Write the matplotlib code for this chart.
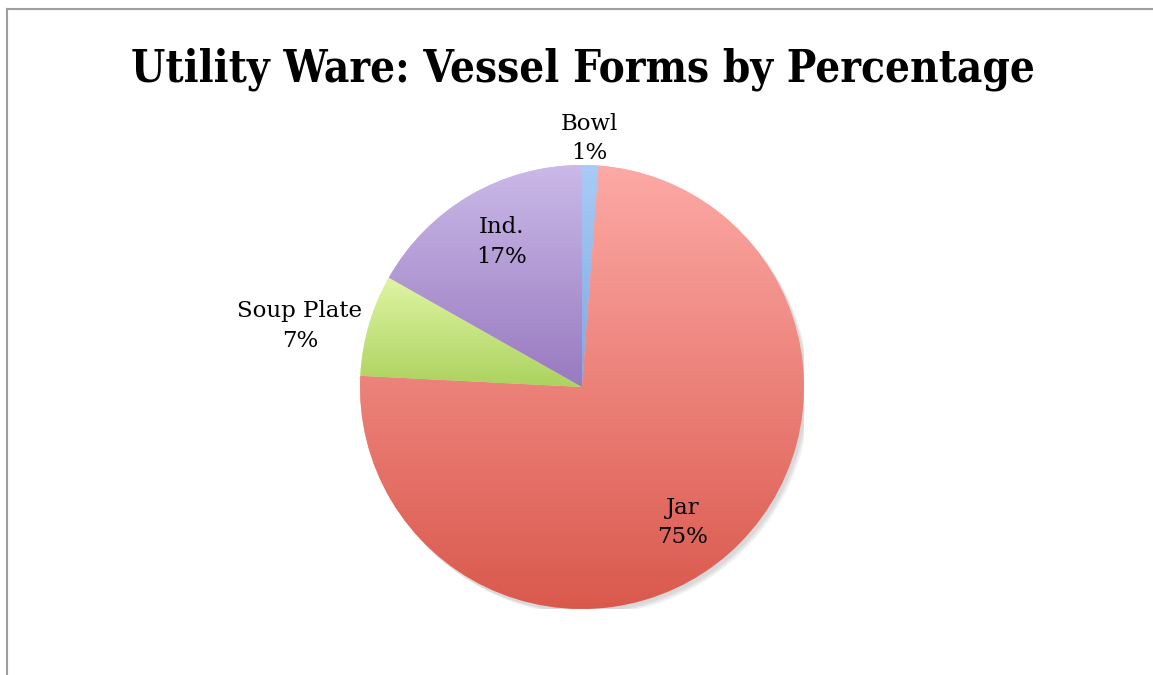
import matplotlib
matplotlib.use("Agg")
import matplotlib.pyplot as plt
import numpy as np
from matplotlib.colors import LinearSegmentedColormap
from matplotlib.patches import Circle

categories = ["Bowl", "Jar", "Soup Plate", "Ind."]
values = [1.2, 74.6, 7.4, 16.8]
pct_labels = ["1%", "75%", "7%", "17%"]
label_dist = [1.12, 0.76, 1.30, 0.746]
label_angle = [88.2, -53.4, 167.8, 118.9]
top_colors = ["#A9CBF5", "#FDA9A5", "#DFF5A4", "#CBB9E8"]
bottom_colors = ["#7EA8E4", "#DA594D", "#ACD25E", "#987AC0"]

W, H = 1153, 675
fig = plt.figure(figsize=(W / 100, H / 100), dpi=100)
fig.patch.set_facecolor("white")

# frame lines (top and left)
fig.add_artist(plt.Line2D([7 / W, 1], [1 - 8.5 / H, 1 - 8.5 / H], color="#9E9E9E", lw=1.5))
fig.add_artist(plt.Line2D([7 / W, 7 / W], [0, 1 - 8.5 / H], color="#9E9E9E", lw=1.5))

fig.text(583 / W, 1 - 69 / H, "Utility Ware: Vessel Forms by Percentage",
         ha="center", va="center", fontsize=31.5, fontweight="bold",
         family="DejaVu Serif", fontstretch="condensed")

cx, cy, r = 582, 387, 222
ax = fig.add_axes([(cx - r) / W, (H - cy - r) / H, 2 * r / W, 2 * r / H])
ax.set_xlim(-1, 1)
ax.set_ylim(-1, 1)
ax.set_aspect("equal")
ax.axis("off")

# soft shadow
for i, a in enumerate([0.05, 0.05, 0.05]):
    ax.add_patch(Circle((0.012 + i * 0.006, -0.015 - i * 0.006), 1.0, color="black",
                        alpha=a, lw=0, zorder=0))

wedges, _ = ax.pie(values, startangle=90, counterclock=False, radius=1.0,
                   colors=top_colors, wedgeprops=dict(lw=0))
ax.set_xlim(-1, 1)
ax.set_ylim(-1, 1)

for w, tc, bc in zip(wedges, top_colors, bottom_colors):
    ext = w.get_path().get_extents().transformed(w.get_patch_transform())
    y0, y1 = ext.y0, ext.y1
    cmap = LinearSegmentedColormap.from_list("g", [bc, tc])
    grad = np.linspace(0, 1, 256).reshape(-1, 1)
    im = ax.imshow(grad, cmap=cmap, origin="lower", extent=(-1, 1, y0, y1),
                   aspect="auto", zorder=2, interpolation="bilinear")
    im.set_clip_path(w)
    w.set_zorder(1)
ax.set_xlim(-1, 1)
ax.set_ylim(-1, 1)

for name, pct, d, ang in zip(categories, pct_labels, label_dist, label_angle):
    a = np.deg2rad(ang)
    ax.text(d * np.cos(a), d * np.sin(a), f"{name}\n{pct}", ha="center", va="center",
            fontsize=16.5, family="DejaVu Serif", linespacing=1.45, zorder=5, clip_on=False)

fig.savefig("out.png", dpi=100)
